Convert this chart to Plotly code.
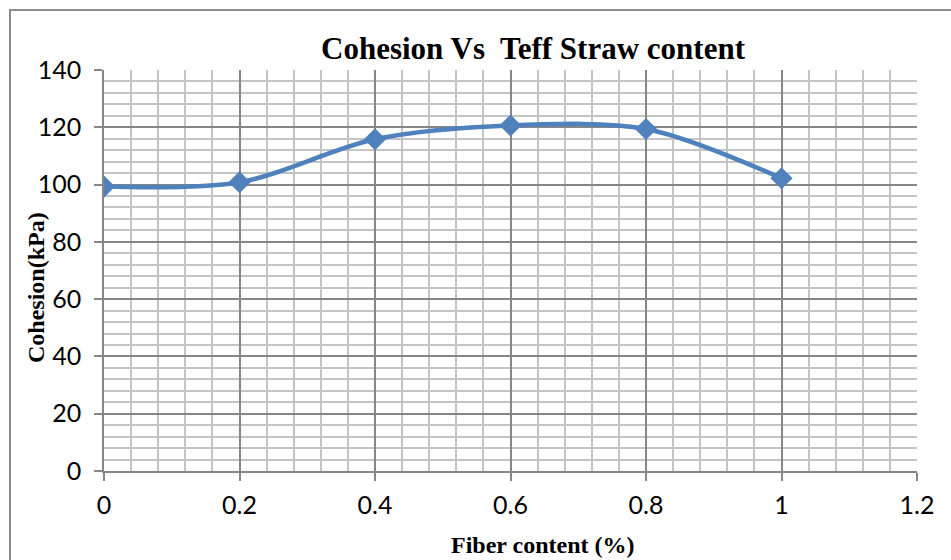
import plotly.graph_objects as go

# Fiber content (%) and measured cohesion (kPa)
fiber_content = [0, 0.2, 0.4, 0.6, 0.8, 1.0]
cohesion_kpa = [99.3, 100.8, 115.8, 120.6, 119.4, 102.2]

x_ticks = [0, 0.2, 0.4, 0.6, 0.8, 1, 1.2]
x_tick_text = ["0", "0.2", "0.4", "0.6", "0.8", "1", "1.2"]
y_ticks = [0, 20, 40, 60, 80, 100, 120, 140]

W, H = 951, 560
L, R, T, B = 104, 34, 70, 89
pw, ph = W - L - R, H - T - B

blue = "#4F81BD"
major = "#868686"
minor = "#C4C4C4"
tick_font = dict(family="Lato, Open Sans, sans-serif", size=25, color="#000000")
serif_bold = "Liberation Serif, Times New Roman, serif"

fig = go.Figure()
fig.add_trace(go.Scatter(
    x=fiber_content, y=cohesion_kpa,
    mode="lines+markers",
    line=dict(color=blue, width=4.5, shape="spline", smoothing=0.9),
    marker=dict(symbol="diamond", size=17, color=blue),
    showlegend=False,
))

fig.update_layout(
    width=W, height=H,
    margin=dict(l=L, r=R, t=T, b=B),
    paper_bgcolor="white", plot_bgcolor="white",
    title=dict(
        text="<b>Cohesion Vs  Teff Straw content</b>",
        font=dict(family=serif_bold, size=31, color="#000000"),
        x=533 / W, xanchor="center", y=1 - 48 / H, yanchor="middle",
    ),
    xaxis=dict(
        range=[0, 1.2], tickvals=x_ticks, ticktext=x_tick_text,
        showgrid=True, gridcolor=major, gridwidth=1.5,
        minor=dict(dtick=0.04, showgrid=True, gridcolor=minor, gridwidth=1.5, ticks=""),
        ticks="outside", ticklen=8, tickcolor=major, tickwidth=1.5,
        showline=True, linecolor=major, linewidth=1.5,
        tickfont=tick_font, zeroline=False, ticklabelstandoff=3,
    ),
    yaxis=dict(
        range=[0, 140], tickvals=y_ticks,
        showgrid=True, gridcolor=major, gridwidth=1.5,
        minor=dict(dtick=4, showgrid=True, gridcolor=minor, gridwidth=1.5, ticks=""),
        ticks="outside", ticklen=8, tickcolor=major, tickwidth=1.5,
        showline=True, linecolor=major, linewidth=1.5,
        tickfont=tick_font, zeroline=False, ticklabelstandoff=8,
    ),
)

# Axis titles
fig.add_annotation(
    text="<b>Fiber content (%)</b>", xref="paper", yref="paper",
    x=(543 - L) / pw, y=-(545 - T - ph) / ph, xanchor="center", yanchor="middle",
    showarrow=False, font=dict(family=serif_bold, size=24, color="#000000"),
)
fig.add_annotation(
    text="<b>Cohesion(kPa)</b>", xref="paper", yref="paper",
    x=(36 - L) / pw, y=1 - (288 - T) / ph, xanchor="center", yanchor="middle",
    textangle=-90, showarrow=False,
    font=dict(family=serif_bold, size=24, color="#000000"),
)

# Chart-area frame
fig.add_shape(
    type="rect", xref="paper", yref="paper",
    x0=(10 - L) / pw, x1=(W + 20 - L) / pw,
    y0=-(H + 20 - T - ph) / ph, y1=1 + (T - 10) / ph,
    line=dict(color="#8C8C8C", width=2), fillcolor="rgba(0,0,0,0)", layer="below",
)

fig.write_html("out.html")
